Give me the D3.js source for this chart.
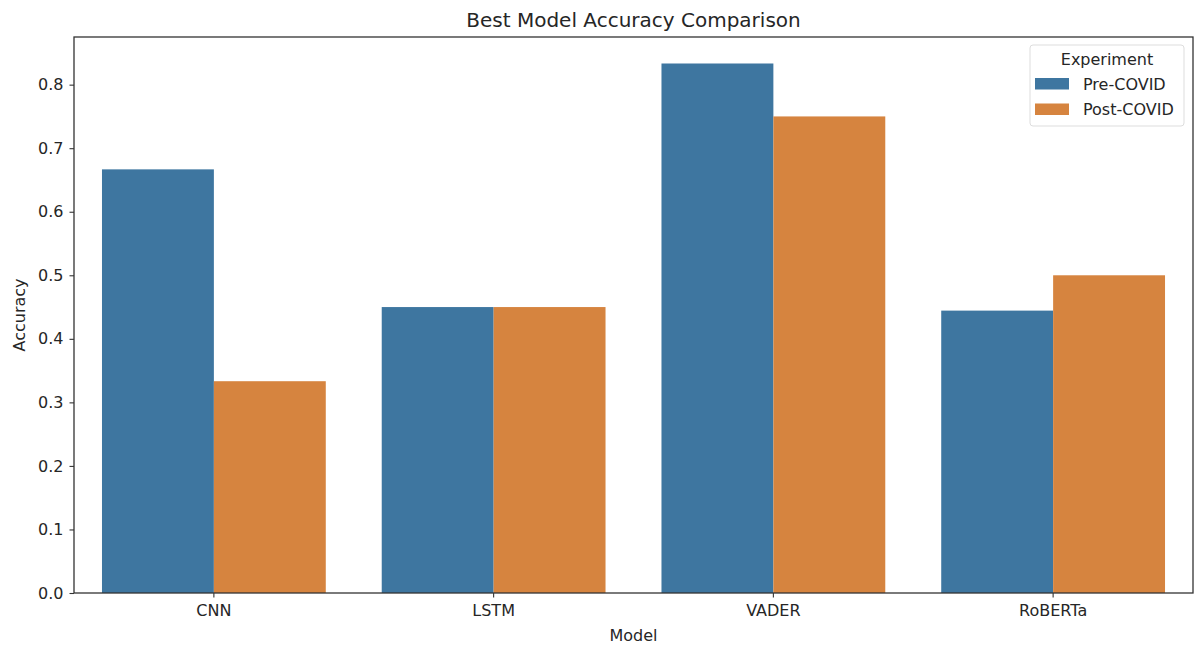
<!DOCTYPE html>
<html><head><meta charset="utf-8">
<script src="https://cdn.jsdelivr.net/npm/d3@7"></script>
<style>body{margin:0;background:#fff;} text{font-family:"DejaVu Sans",sans-serif;fill:#262626;}</style>
</head><body>
<svg id="c" width="1199" height="646"></svg>
<script>
const models = ["CNN","LSTM","VADER","RoBERTa"];
const experiments = ["Pre-COVID","Post-COVID"];
const preCovid = [0.6667, 0.45, 0.8333, 0.4444];
const postCovid = [0.3333, 0.45, 0.75, 0.5];
const yTicks = [0,0.1,0.2,0.3,0.4,0.5,0.6,0.7,0.8];
const colors = ["#3e76a0","#d6843f"];

const series = [preCovid, postCovid];
const svg = d3.select("#c");
const m = {l:74, r:1193, t:37, b:593};
const x = d3.scaleBand().domain(models).range([m.l,m.r]).paddingInner(0).paddingOuter(0);
const xs = d3.scaleBand().domain(experiments).range([0, x.bandwidth()*0.8]);
const y = d3.scaleLinear().domain([0,0.875]).range([m.b,m.t]);

const g = svg.append("g");
models.forEach((mod,i)=>{
  experiments.forEach((e,j)=>{
    g.append("rect")
      .attr("x", x(mod)+x.bandwidth()*0.1+xs(e))
      .attr("y", y(series[j][i]))
      .attr("width", xs.bandwidth())
      .attr("height", y(0)-y(series[j][i]))
      .attr("fill", colors[j]);
  });
});

const ya = svg.append("g").attr("transform",`translate(${m.l},0)`)
  .call(d3.axisLeft(y).tickValues(yTicks).tickFormat(d3.format(".1f")).tickSize(4.5).tickPadding(6));
const xa = svg.append("g").attr("transform",`translate(0,${m.b})`)
  .call(d3.axisBottom(x).tickSize(4.5).tickPadding(7));
[ya,xa].forEach(a=>{a.select(".domain").remove(); a.selectAll("text").style("font-size","16px").attr("fill","#262626"); a.selectAll("line").attr("stroke","#333").attr("stroke-width",1.1);});

svg.append("rect").attr("x",m.l).attr("y",m.t).attr("width",m.r-m.l).attr("height",m.b-m.t)
  .attr("fill","none").attr("stroke","#333").attr("stroke-width",1.3);

svg.append("text").attr("x",(m.l+m.r)/2).attr("y",27).attr("text-anchor","middle").style("font-size","20px").text("Best Model Accuracy Comparison");
svg.append("text").attr("x",(m.l+m.r)/2).attr("y",641).attr("text-anchor","middle").style("font-size","16px").text("Model");
svg.append("text").attr("transform",`translate(25,${(m.t+m.b)/2}) rotate(-90)`).attr("text-anchor","middle").style("font-size","16px").text("Accuracy");

// legend
const lg = svg.append("g").attr("transform","translate(1030,45)");
lg.append("rect").attr("x",0).attr("y",0).attr("width",154).attr("height",81).attr("rx",3)
  .attr("fill","#fff").attr("fill-opacity",0.8).attr("stroke","#ddd");
lg.append("text").attr("x",77).attr("y",20).attr("text-anchor","middle").style("font-size","16px").text("Experiment");
experiments.forEach((e,j)=>{
  lg.append("rect").attr("x",5).attr("y",33+j*25.5).attr("width",34).attr("height",11.5).attr("fill",colors[j]);
  lg.append("text").attr("x",53).attr("y",44.5+j*25.5).style("font-size","16px").text(e);
});
</script>
</body></html>
